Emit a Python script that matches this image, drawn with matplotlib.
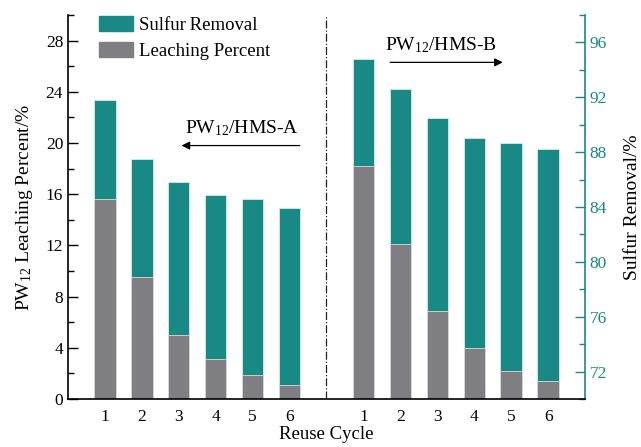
import numpy as np
import matplotlib
matplotlib.use('Agg')
import matplotlib.pyplot as plt
from matplotlib.ticker import MultipleLocator

plt.rcParams['font.family'] = 'Liberation Serif'
plt.rcParams['mathtext.fontset'] = 'custom'
plt.rcParams['mathtext.rm'] = 'Liberation Serif'
plt.rcParams['mathtext.it'] = 'Liberation Serif'

cycles = ['1', '2', '3', '4', '5', '6']
sulfur_a = [91.8, 87.5, 85.8, 84.9, 84.6, 83.9]
sulfur_b = [94.8, 92.6, 90.5, 89.0, 88.7, 88.2]
leach_a = [15.6, 9.5, 5.0, 3.1, 1.9, 1.1]
leach_b = [18.2, 12.1, 6.9, 4.0, 2.2, 1.4]

teal = '#198985'
grey = '#7e7e83'

pos_a = np.arange(1, 7)
pos_b = np.arange(8, 14)
width = 0.58

fig = plt.figure(figsize=(6.41, 4.47), dpi=100)
ax = fig.add_axes([68 / 641, 48 / 447, 517 / 641, 384 / 447])
ax2 = ax.twinx()

# sulfur removal on the right axis, leaching on the left axis drawn in front
ax2.bar(pos_a, sulfur_a, width, bottom=0, color=teal, edgecolor='#d8ecea', linewidth=0.6)
ax2.bar(pos_b, sulfur_b, width, bottom=0, color=teal, edgecolor='#d8ecea', linewidth=0.6)
ax.bar(pos_a, leach_a, width, color=grey, edgecolor='#dcdcdc', linewidth=0.6)
ax.bar(pos_b, leach_b, width, color=grey, edgecolor='#dcdcdc', linewidth=0.6)
ax.set_zorder(ax2.get_zorder() + 1)
ax.patch.set_visible(False)

ax.set_xlim(0, 14)
ax.set_ylim(0, 30)
ax2.set_ylim(70, 98)

ax.axvline(7, color='#222222', linestyle='-.', linewidth=0.9)

ax.set_xticks(np.concatenate([pos_a, pos_b]))
ax.set_xticklabels(cycles + cycles, fontsize=12.5)
ax.tick_params(axis='x', length=0, pad=7)

ax.yaxis.set_major_locator(MultipleLocator(4))
ax.yaxis.set_minor_locator(MultipleLocator(2))
ax.tick_params(axis='y', which='major', direction='in', length=7, width=1, labelsize=12.5)
ax.tick_params(axis='y', which='minor', direction='in', length=4, width=1)

ax2.yaxis.set_major_locator(MultipleLocator(4))
ax2.yaxis.set_minor_locator(MultipleLocator(2))
ax2.set_yticks([72, 76, 80, 84, 88, 92, 96])
ax2.tick_params(axis='y', which='major', direction='in', length=7, width=1,
                labelsize=12.5, color=teal, labelcolor=teal)
ax2.tick_params(axis='y', which='minor', direction='in', length=4, width=1, color=teal)

for a in (ax, ax2):
    a.spines['top'].set_visible(False)
ax.spines['right'].set_visible(False)
ax2.spines['left'].set_visible(False)
ax2.spines['bottom'].set_visible(False)
ax2.spines['right'].set_color(teal)
ax2.spines['right'].set_linewidth(1.2)
ax.spines['left'].set_linewidth(1.2)
ax.spines['bottom'].set_linewidth(1.2)

ax.set_xlabel('Reuse Cycle', fontsize=13.5, labelpad=1)
ax.set_ylabel('PW$_{12}$ Leaching Percent/%', fontsize=14, labelpad=8)
ax2.set_ylabel('Sulfur Removal/%', fontsize=14, labelpad=12)

handles = [plt.Rectangle((0, 0), 1, 1, color=teal), plt.Rectangle((0, 0), 1, 1, color=grey)]
ax.legend(handles, ['Sulfur\u2009Removal', 'Leaching Percent'], loc='upper left',
          bbox_to_anchor=(0.045, 1.018), frameon=False, fontsize=13.5,
          handlelength=1.8, handleheight=0.85, handletextpad=0.35, labelspacing=0.45,
          borderaxespad=0)

ax.annotate('', xy=(3.0, 19.8), xytext=(6.35, 19.8),
            arrowprops=dict(arrowstyle='-|>', color='black', lw=0.9, mutation_scale=12))
ax.text(4.7, 20.4, 'PW$_{12}$/HMS-A', fontsize=14, ha='center', va='bottom')

ax.annotate('', xy=(11.85, 26.3), xytext=(8.65, 26.3),
            arrowprops=dict(arrowstyle='-|>', color='black', lw=0.9, mutation_scale=12))
ax.text(10.1, 26.9, 'PW$_{12}$/HMS-B', fontsize=14, ha='center', va='bottom')

fig.savefig('out.png', dpi=100)
